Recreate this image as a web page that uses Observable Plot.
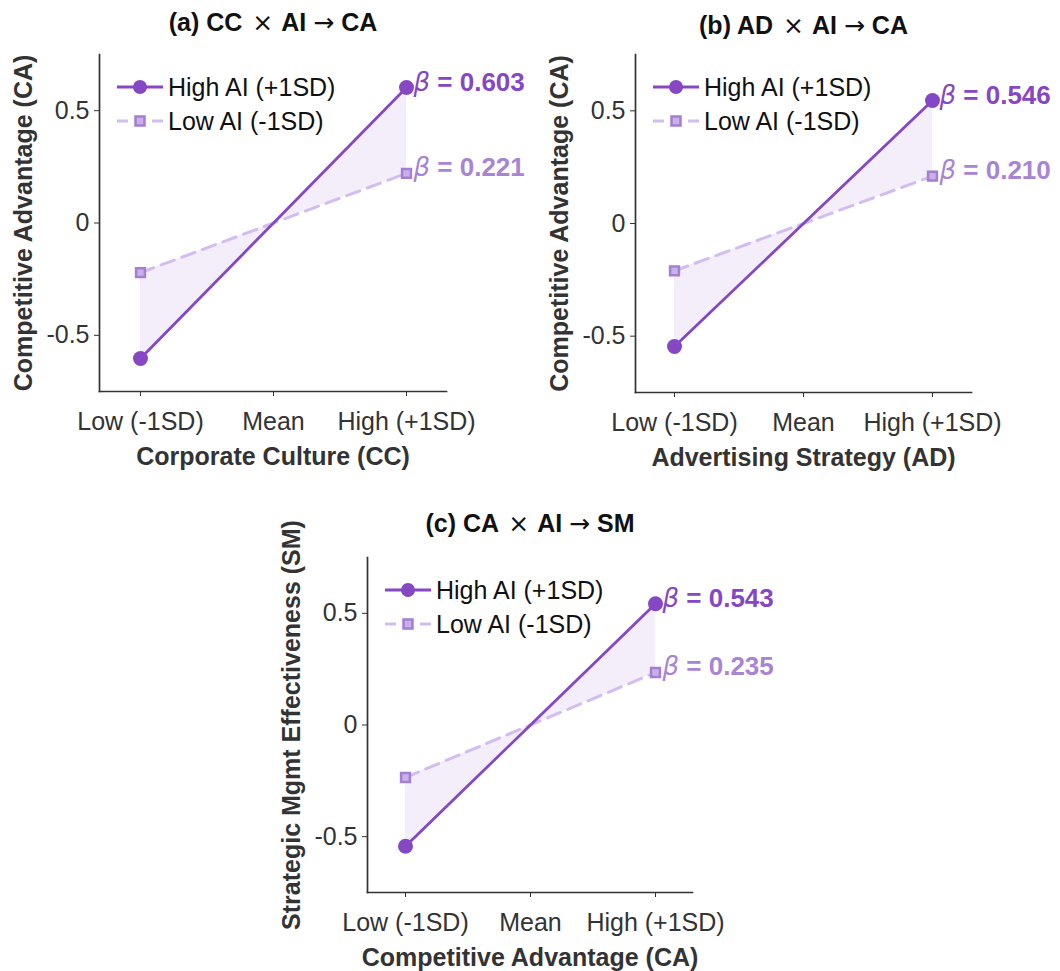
<!DOCTYPE html>
<html><head><meta charset="utf-8">
<script src="https://cdn.jsdelivr.net/npm/d3@7"></script>
<script src="https://cdn.jsdelivr.net/npm/@observablehq/plot@0.6"></script>
<style>
body{margin:0;background:#fff;}
#root{position:relative;width:1060px;height:971px;font-family:"Liberation Sans",Arial,sans-serif;}
.panel{position:absolute;}
.panel svg{overflow:visible;}
</style></head><body><div id="root"></div>
<script>
// ---- data ----
const levels = ["Low (-1SD)", "Mean", "High (+1SD)"];
const yTicks = [-0.5, 0, 0.5];
const yTickLabels = ["-0.5", "0", "0.5"];
const groups = ["High AI (+1SD)", "Low AI (-1SD)"];
const letters = ["(a)", "(b)", "(c)"];
const predictors = ["CC", "AD", "CA"];
const outcomes = ["CA", "CA", "SM"];
const xLabels = ["Corporate Culture (CC)", "Advertising Strategy (AD)", "Competitive Advantage (CA)"];
const yLabels = ["Competitive Advantage (CA)", "Competitive Advantage (CA)", "Strategic Mgmt Effectiveness (SM)"];
const highA = [-0.603, 0, 0.603];
const lowA  = [-0.221, 0, 0.221];
const highB = [-0.546, 0, 0.546];
const lowB  = [-0.210, 0, 0.210];
const highC = [-0.543, 0, 0.543];
const lowC  = [-0.235, 0, 0.235];
const betaHigh = [0.603, 0.546, 0.543];
const betaLow  = [0.221, 0.210, 0.235];

// ---- layout / style ----
const layout = [
  {left:0,   top:0,   width:530, height:480, mL:99,  mR:84,  mT:54, mB:89, titleDy:-32},
  {left:530, top:0,   width:530, height:480, mL:105, mR:89,  mT:54, mB:88, titleDy:-29},
  {left:270, top:490, width:530, height:481, mL:97,  mR:108, mT:67, mB:79, titleDy:-34}
];
const highSeries = [highA, highB, highC];
const lowSeries = [lowA, lowB, lowC];
const PURPLE = "#8547c3";
const LOW_LINE = "#d3bdf0";
const LOW_FILL = "#c9b0ea";
const LOW_STROKE = "#a47fd1";
const LOW_TEXT = "#a884d4";
const SHADE = "#f3eefa";
const AXIS = "#333333";
const FONT = "Liberation Sans, Arial, sans-serif";
const FS = 25;

const root = document.getElementById("root");

layout.forEach((L, p) => {
  const rows = levels.map((lv, i) => ({level: lv, high: highSeries[p][i], low: lowSeries[p][i]}));
  const ends = rows.filter(r => r.level !== "Mean");
  const last = [rows[rows.length - 1]];
  const hiTxt = "β = " + betaHigh[p].toFixed(3);
  const loTxt = "β = " + betaLow[p].toFixed(3);

  const svg = Plot.plot({
    width: L.width, height: L.height,
    marginLeft: L.mL, marginRight: L.mR, marginTop: L.mT, marginBottom: L.mB,
    style: {fontFamily: FONT, fontSize: FS + "px", color: AXIS, background: "transparent", overflow: "visible"},
    x: {type: "point", domain: levels, padding: 0.3},
    y: {domain: [-0.75, 0.75]},
    marks: [
      Plot.areaY(rows, {x: "level", y1: "low", y2: "high", fill: SHADE, curve: "linear"}),
      Plot.line(rows, {x: "level", y: "low", stroke: LOW_LINE, strokeWidth: 3, strokeDasharray: "14,8"}),
      Plot.line(rows, {x: "level", y: "high", stroke: PURPLE, strokeWidth: 2.8}),
      Plot.dot(ends, {x: "level", y: "low", symbol: "square", r: 5, fill: LOW_FILL, stroke: LOW_STROKE, strokeWidth: 2.5}),
      Plot.dot(ends, {x: "level", y: "high", r: 7.5, fill: PURPLE}),
      Plot.text(last, {x: "level", y: "high", text: () => hiTxt, dx: 7, dy: -5,
        textAnchor: "start", fill: PURPLE, fontWeight: "bold", fontSize: 26}),
      Plot.text(last, {x: "level", y: "low", text: () => loTxt, dx: 7, dy: -6,
        textAnchor: "start", fill: LOW_TEXT, fontWeight: "bold", fontSize: 26}),
      Plot.axisX({ticks: levels, tickSize: 5, tickPadding: 16, fontSize: FS, label: null, stroke: AXIS, fill: AXIS}),
      Plot.axisY({ticks: yTicks, tickFormat: d => yTickLabels[yTicks.indexOf(d)], tickSize: 5, tickPadding: 5, fontSize: FS, label: null, stroke: AXIS, fill: AXIS}),
      Plot.frame({anchor: "left", stroke: AXIS, strokeWidth: 1.7}),
      Plot.frame({anchor: "bottom", stroke: AXIS, strokeWidth: 1.7}),
      Plot.text([xLabels[p]], {text: d => d, frameAnchor: "bottom", lineAnchor: "middle", textAnchor: "middle", dy: 65, fontWeight: "bold", fontSize: FS, fill: AXIS}),
      Plot.text([yLabels[p]], {text: d => d, frameAnchor: "left", lineAnchor: "middle", textAnchor: "middle", dx: -76, rotate: -90, fontWeight: "bold", fontSize: FS, fill: AXIS}),
      Plot.text([letters[p]], {text: d => d, frameAnchor: "top", lineAnchor: "middle", textAnchor: "middle", dy: L.titleDy, fontWeight: "bold", fontSize: FS, fill: "#111"})
    ]
  });

  const s = d3.select(svg);
  s.selectAll("text").each(function() {
    const t = d3.select(this);
    const c = this.textContent;
    if (c === hiTxt || c === loTxt) {
      const val = c.slice(1);
      t.text(null);
      t.append("tspan").attr("font-style", "italic").attr("font-weight", "normal").attr("font-family", "DejaVu Sans").text("β");
      t.append("tspan").text(val);
    } else if (c === letters[p]) {
      t.text(null);
      t.append("tspan").text(letters[p] + " " + predictors[p] + " ");
      t.append("tspan").attr("dx", 3).attr("font-weight", "normal").attr("font-family", "DejaVu Sans").text("×");
      t.append("tspan").attr("dx", 2).text(" AI ");
      t.append("tspan").attr("font-weight", "normal").attr("font-family", "DejaVu Sans").text("→");
      t.append("tspan").text(" " + outcomes[p]);
    }
  });
  // legend
  const g = s.append("g").attr("transform", `translate(${L.mL + 18},${L.mT + 33})`)
    .attr("font-family", FONT).attr("font-size", FS).attr("text-anchor", "start");
  g.append("line").attr("x1", 0).attr("x2", 46).attr("y1", 0).attr("y2", 0).attr("stroke", PURPLE).attr("stroke-width", 2.8);
  g.append("circle").attr("cx", 23).attr("cy", 0).attr("r", 7).attr("fill", PURPLE);
  g.append("text").attr("x", 51).attr("y", 0).attr("dy", "0.35em").attr("fill", "#111").text(groups[0]);
  g.append("line").attr("x1", 0).attr("x2", 46).attr("y1", 34).attr("y2", 34).attr("stroke", LOW_LINE).attr("stroke-width", 3).attr("stroke-dasharray", "11,24");
  g.append("rect").attr("x", 18.5).attr("y", 29.5).attr("width", 9).attr("height", 9).attr("fill", LOW_FILL).attr("stroke", LOW_STROKE).attr("stroke-width", 2.5);
  g.append("text").attr("x", 51).attr("y", 34).attr("dy", "0.35em").attr("fill", "#111").text(groups[1]);

  const div = document.createElement("div");
  div.className = "panel";
  div.style.left = L.left + "px";
  div.style.top = L.top + "px";
  div.appendChild(svg);
  root.appendChild(div);
});
</script>
</body></html>
